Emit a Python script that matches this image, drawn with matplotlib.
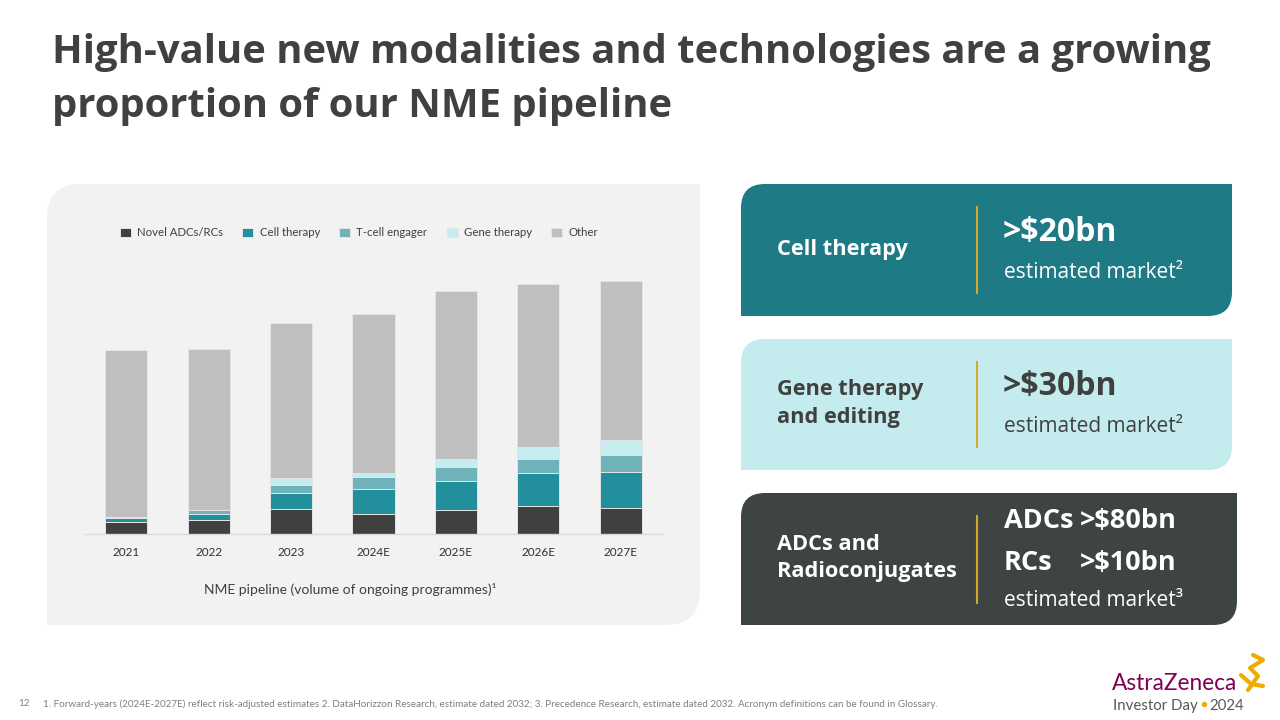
import matplotlib
matplotlib.use("Agg")
import matplotlib.pyplot as plt
from matplotlib.path import Path
from matplotlib.patches import PathPatch

# ---------------------------------------------------------------
# Data (arbitrary volume units)
years = ['2021', '2022', '2023', '2024E', '2025E', '2026E', '2027E']
novel_adc = [12, 14, 25, 20, 24, 28, 26]
cell_therapy = [4, 6, 16, 25, 29, 33, 36]
tcell_engager = [1, 4, 8, 12, 14, 14, 17]
gene_therapy = [0.5, 0.5, 7, 4, 8, 12, 15]
other = [167, 161, 155, 159, 168, 163, 159]

series_names = ['Novel ADCs/RCs', 'Cell therapy', 'T-cell engager', 'Gene therapy', 'Other']
series_colors = ['#404040', '#21909c', '#6fb2b9', '#c5ecef', '#bfbfbf']

TXT = '#404040'
plt.rcParams['font.family'] = ['Open Sans', 'DejaVu Sans']

fig = plt.figure(figsize=(12.8, 7.2), dpi=100)
fig.patch.set_facecolor('white')

# full-figure axes in pixel coordinates for the slide decoration
bg = fig.add_axes([0, 0, 1, 1], zorder=0)
bg.set_xlim(0, 1280)
bg.set_ylim(720, 0)
bg.axis('off')


def corner_box(x0, y0, x1, y1, r, color):
    # rounded top-left and bottom-right corners only
    verts = [(x0, y0 + r), (x0, y0), (x0 + r, y0), (x1, y0), (x1, y1 - r),
             (x1, y1), (x1 - r, y1), (x0, y1), (x0, y0 + r)]
    codes = [Path.MOVETO, Path.CURVE3, Path.CURVE3, Path.LINETO, Path.LINETO,
             Path.CURVE3, Path.CURVE3, Path.LINETO, Path.CLOSEPOLY]
    bg.add_patch(PathPatch(Path(verts, codes), facecolor=color, edgecolor='none'))


# title
bg.text(52, 52, 'High-value new modalities and technologies are a growing',
        fontsize=28.8, fontweight='bold', color=TXT, va='center', ha='left')
bg.text(52, 107, 'proportion of our NME pipeline',
        fontsize=28.8, fontweight='bold', color=TXT, va='center', ha='left')

# chart panel
corner_box(47, 184, 700, 625, 34, '#f2f2f2')

# right hand panels
GOLD = '#d4a82a'
corner_box(741, 184, 1232, 316, 24, '#1e7a85')
corner_box(741, 339, 1232, 470, 24, '#c4ecef')
corner_box(741, 493, 1237, 625, 24, '#3e4344')
for y0, y1 in [(207, 293), (362, 447), (516, 603)]:
    bg.plot([977, 977], [y0, y1], color=GOLD, lw=1.5)

LBL = 15.7
bg.text(777, 249, 'Cell therapy', fontsize=LBL, fontweight='bold', color='white', va='center')
bg.text(1003, 233, '>$20bn', fontsize=23, fontweight='bold', color='white', va='center')
bg.text(1004, 273, 'estimated market²', fontsize=15, color='white', va='center')

bg.text(777, 389, 'Gene therapy', fontsize=LBL, fontweight='bold', color=TXT, va='center')
bg.text(777, 417, 'and editing', fontsize=LBL, fontweight='bold', color=TXT, va='center')
bg.text(1003, 387, '>$30bn', fontsize=23, fontweight='bold', color=TXT, va='center')
bg.text(1004, 427, 'estimated market²', fontsize=15, color=TXT, va='center')

bg.text(777, 544, 'ADCs and', fontsize=LBL, fontweight='bold', color='white', va='center')
bg.text(777, 572, 'Radioconjugates', fontsize=LBL, fontweight='bold', color='white', va='center')
bg.text(1004, 521, 'ADCs', fontsize=19.5, fontweight='bold', color='white', va='center')
bg.text(1080, 521, '>$80bn', fontsize=19.5, fontweight='bold', color='white', va='center')
bg.text(1004, 563, 'RCs', fontsize=19.5, fontweight='bold', color='white', va='center')
bg.text(1080, 563, '>$10bn', fontsize=19.5, fontweight='bold', color='white', va='center')
bg.text(1004, 601, 'estimated market³', fontsize=15, color='white', va='center')

# footer
bg.text(18, 704, '12', fontsize=7, color='#7f7f7f', va='center', family='Lato')
bg.text(43, 704, '1. Forward-years (2024E-2027E) reflect risk-adjusted estimates 2. DataHorizzon Research, '
        'estimate dated 2032; 3. Precedence Research, estimate dated 2032. Acronym definitions can be found in Glossary.',
        fontsize=7.1, color='#7f7f7f', va='center', family='Lato')

# logo
bg.text(1112, 683, 'AstraZeneca', fontsize=16.3, color='#830051', va='center', family='Lato')
inv = bg.text(1113, 706, 'Investor Day', fontsize=10.8, color='#595959', va='center', family='Lato')
renderer = fig.canvas.get_renderer()
inv_right = inv.get_window_extent(renderer).x1  # pixels, same scale as bg x
bg.plot([inv_right + 6], [704], 'o', ms=4, color='#f0ab00', mec='none')
bg.text(inv_right + 12, 706, '2024', fontsize=10.8, color='#595959', va='center', family='Lato')
bg.plot([1248, 1258, 1250, 1263, 1253], [690, 676, 668, 660, 655], color='#f0ab00', lw=3,
        solid_capstyle='round', solid_joinstyle='round')
bg.plot([1241, 1251, 1263], [675, 684, 686], color='#f0ab00', lw=3, solid_capstyle='round')

# ---------------------------------------------------------------
# stacked bar chart
ax = fig.add_axes([85 / 1280, (720 - 534) / 720, (662 - 85) / 1280, (534 - 260) / 720], zorder=2)
ax.patch.set_alpha(0)
x = list(range(len(years)))
bottom = [0] * len(years)
handles = []
for name, vals, col in zip(series_names,
                           [novel_adc, cell_therapy, tcell_engager, gene_therapy, other],
                           series_colors):
    b = ax.bar(x, vals, bottom=bottom, width=0.51, color=col, edgecolor='#e4e4e4',
               linewidth=0.7, label=name)
    handles.append(b)
    bottom = [bo + v for bo, v in zip(bottom, vals)]

ax.set_xlim(-0.5, len(years) - 0.5)
ax.set_ylim(0, 274)
ax.set_xticks(x)
ax.set_xticklabels(years, fontsize=8.5, color='#303030', family='Lato')
ax.tick_params(axis='x', length=0, pad=9)
ax.set_yticks([])
for s in ['top', 'right', 'left']:
    ax.spines[s].set_visible(False)
ax.spines['bottom'].set_color('#d9d9d9')
ax.spines['bottom'].set_linewidth(1)

fig.legend(handles=handles, loc='center', bbox_to_anchor=(359 / 1280, 1 - 233 / 720),
           ncol=5, frameon=False, handlelength=0.95, handleheight=0.95, columnspacing=1.7,
           handletextpad=0.55, prop={'family': 'Lato', 'size': 8.2}, labelcolor=TXT)

bg.text(350, 590, 'NME pipeline (volume of ongoing programmes)¹', fontsize=10,
        color=TXT, ha='center', va='center', family='Lato')

fig.savefig('out.png', dpi=100, facecolor='white')
